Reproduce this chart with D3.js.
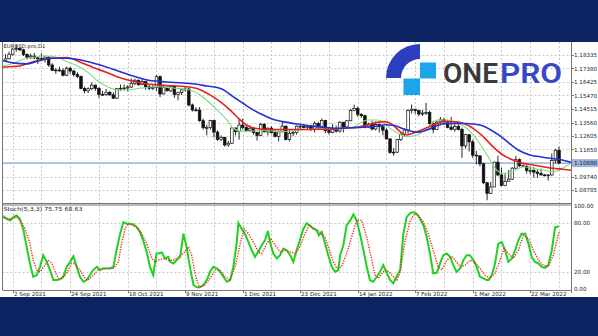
<!DOCTYPE html>
<html>
<head>
<meta charset="utf-8">
<script src="https://cdn.jsdelivr.net/npm/d3@7"></script>
<style>
html, body { margin: 0; padding: 0; background: #fff; }
svg { display: block; }
</style>
</head>
<body>
<div id="chart"></div>
<script>
const W = 598, H = 336;

// daily EURUSD candles, 31 Aug 2021 .. 31 Mar 2022 (bar index 0..154)
const open = [
  1.1796, 1.1807, 1.1839, 1.1876, 1.1880, 1.1870, 1.1837, 1.1818, 1.1826, 1.1813,
  1.1808, 1.1805, 1.1818, 1.1763, 1.1725, 1.1727, 1.1723, 1.1690, 1.1740, 1.1720,
  1.1695, 1.1682, 1.1597, 1.1580, 1.1595, 1.1620, 1.1598, 1.1555, 1.1553, 1.1570,
  1.1552, 1.1528, 1.1595, 1.1598, 1.1600, 1.1607, 1.1633, 1.1655, 1.1623, 1.1645,
  1.1608, 1.1598, 1.1604, 1.1680, 1.1558, 1.1606, 1.1580, 1.1612, 1.1554, 1.1567,
  1.1588, 1.1593, 1.1480, 1.1445, 1.1444, 1.1369, 1.1319, 1.1320, 1.1370, 1.1288,
  1.1237, 1.1250, 1.1197, 1.1209, 1.1317, 1.1291, 1.1338, 1.1320, 1.1301, 1.1315,
  1.1285, 1.1265, 1.1343, 1.1290, 1.1316, 1.1284, 1.1258, 1.1290, 1.1330, 1.1236,
  1.1280, 1.1285, 1.1330, 1.1330, 1.1320, 1.1330, 1.1310, 1.1350, 1.1325, 1.1370,
  1.1298, 1.1286, 1.1312, 1.1295, 1.1358, 1.1325, 1.1368, 1.1440, 1.1455, 1.1414,
  1.1404, 1.1325, 1.1344, 1.1310, 1.1342, 1.1326, 1.1302, 1.1240, 1.1144, 1.1146,
  1.1235, 1.1272, 1.1303, 1.1440, 1.1450, 1.1440, 1.1416, 1.1423, 1.1426, 1.1348,
  1.1307, 1.1358, 1.1375, 1.1361, 1.1322, 1.1308, 1.1328, 1.1307, 1.1190, 1.1270,
  1.1219, 1.1125, 1.1120, 1.1064, 1.0930, 1.0855, 1.0900, 1.1075, 1.0985, 1.0910,
  1.0940, 1.0955, 1.1033, 1.1093, 1.1050, 1.1045, 1.1016, 1.1016, 1.1005, 1.0995,
  1.0985, 1.0980, 1.0985, 1.1087, 1.1160
];
const high = [
  1.1840, 1.1857, 1.1880, 1.1909, 1.1888, 1.1878, 1.1845, 1.1844, 1.1848, 1.1822,
  1.1845, 1.1830, 1.1825, 1.1775, 1.1740, 1.1750, 1.1740, 1.1752, 1.1750, 1.1730,
  1.1712, 1.1688, 1.1610, 1.1605, 1.1640, 1.1625, 1.1605, 1.1580, 1.1593, 1.1578,
  1.1570, 1.1600, 1.1625, 1.1625, 1.1620, 1.1668, 1.1665, 1.1660, 1.1665, 1.1650,
  1.1625, 1.1620, 1.1692, 1.1690, 1.1616, 1.1610, 1.1616, 1.1617, 1.1575, 1.1590,
  1.1609, 1.1600, 1.1490, 1.1465, 1.1465, 1.1384, 1.1340, 1.1375, 1.1375, 1.1300,
  1.1265, 1.1255, 1.1225, 1.1320, 1.1320, 1.1382, 1.1383, 1.1335, 1.1335, 1.1325,
  1.1290, 1.1355, 1.1352, 1.1320, 1.1330, 1.1310, 1.1300, 1.1360, 1.1335, 1.1305,
  1.1305, 1.1335, 1.1345, 1.1340, 1.1335, 1.1340, 1.1365, 1.1360, 1.1385, 1.1375,
  1.1320, 1.1345, 1.1335, 1.1365, 1.1360, 1.1375, 1.1450, 1.1482, 1.1468, 1.1422,
  1.1412, 1.1355, 1.1369, 1.1363, 1.1350, 1.1335, 1.1315, 1.1245, 1.1175, 1.1240,
  1.1283, 1.1315, 1.1450, 1.1483, 1.1452, 1.1445, 1.1445, 1.1495, 1.1440, 1.1365,
  1.1368, 1.1395, 1.1390, 1.1375, 1.1395, 1.1360, 1.1345, 1.1320, 1.1275, 1.1275,
  1.1235, 1.1155, 1.1125, 1.1070, 1.0935, 1.0935, 1.1080, 1.1120, 1.1035, 1.0995,
  1.1020, 1.1040, 1.1120, 1.1102, 1.1058, 1.1055, 1.1045, 1.1040, 1.1025, 1.1030,
  1.0992, 1.0990, 1.1137, 1.1170, 1.1185
];
const low = [
  1.1794, 1.1802, 1.1830, 1.1857, 1.1860, 1.1826, 1.1802, 1.1804, 1.1804, 1.1770,
  1.1794, 1.1780, 1.1750, 1.1720, 1.1700, 1.1715, 1.1683, 1.1685, 1.1701, 1.1680,
  1.1670, 1.1590, 1.1562, 1.1565, 1.1585, 1.1580, 1.1530, 1.1545, 1.1545, 1.1545,
  1.1524, 1.1525, 1.1580, 1.1585, 1.1575, 1.1600, 1.1620, 1.1617, 1.1620, 1.1588,
  1.1586, 1.1585, 1.1580, 1.1535, 1.1555, 1.1577, 1.1570, 1.1530, 1.1513, 1.1550,
  1.1575, 1.1470, 1.1433, 1.1433, 1.1360, 1.1305, 1.1265, 1.1305, 1.1250, 1.1226,
  1.1225, 1.1186, 1.1185, 1.1205, 1.1265, 1.1235, 1.1305, 1.1295, 1.1288, 1.1270,
  1.1228, 1.1260, 1.1285, 1.1265, 1.1277, 1.1250, 1.1222, 1.1285, 1.1230, 1.1222,
  1.1260, 1.1270, 1.1310, 1.1315, 1.1305, 1.1295, 1.1285, 1.1310, 1.1315, 1.1280,
  1.1272, 1.1280, 1.1285, 1.1285, 1.1285, 1.1315, 1.1365, 1.1435, 1.1395, 1.1390,
  1.1315, 1.1320, 1.1300, 1.1300, 1.1285, 1.1265, 1.1235, 1.1135, 1.1121, 1.1140,
  1.1225, 1.1260, 1.1275, 1.1420, 1.1417, 1.1400, 1.1402, 1.1410, 1.1340, 1.1280,
  1.1305, 1.1340, 1.1340, 1.1315, 1.1300, 1.1290, 1.1300, 1.1106, 1.1170, 1.1150,
  1.1105, 1.1060, 1.1045, 1.0920, 1.0806, 1.0850, 1.0900, 1.0975, 1.0905, 1.0905,
  1.0940, 1.0950, 1.1025, 1.1040, 1.1040, 1.0995, 1.0990, 1.0965, 1.0965, 1.0980,
  1.0975, 1.0945, 1.0980, 1.1065, 1.1060
];
const close = [
  1.1807, 1.1839, 1.1876, 1.1880, 1.1870, 1.1837, 1.1818, 1.1826, 1.1813, 1.1808,
  1.1805, 1.1818, 1.1763, 1.1725, 1.1727, 1.1723, 1.1690, 1.1740, 1.1720, 1.1695,
  1.1682, 1.1597, 1.1580, 1.1595, 1.1620, 1.1598, 1.1555, 1.1553, 1.1570, 1.1552,
  1.1528, 1.1595, 1.1598, 1.1600, 1.1607, 1.1633, 1.1655, 1.1623, 1.1645, 1.1608,
  1.1598, 1.1604, 1.1680, 1.1558, 1.1606, 1.1580, 1.1612, 1.1554, 1.1567, 1.1588,
  1.1593, 1.1480, 1.1445, 1.1444, 1.1369, 1.1319, 1.1320, 1.1370, 1.1288, 1.1237,
  1.1250, 1.1197, 1.1209, 1.1317, 1.1291, 1.1338, 1.1320, 1.1301, 1.1315, 1.1285,
  1.1265, 1.1343, 1.1290, 1.1316, 1.1284, 1.1258, 1.1290, 1.1330, 1.1236, 1.1280,
  1.1285, 1.1330, 1.1330, 1.1320, 1.1330, 1.1310, 1.1350, 1.1325, 1.1370, 1.1298,
  1.1286, 1.1312, 1.1295, 1.1358, 1.1325, 1.1368, 1.1440, 1.1455, 1.1414, 1.1404,
  1.1325, 1.1344, 1.1310, 1.1342, 1.1326, 1.1302, 1.1240, 1.1144, 1.1146, 1.1235,
  1.1272, 1.1303, 1.1440, 1.1450, 1.1440, 1.1416, 1.1423, 1.1426, 1.1348, 1.1307,
  1.1358, 1.1375, 1.1361, 1.1322, 1.1308, 1.1328, 1.1307, 1.1190, 1.1270, 1.1219,
  1.1125, 1.1120, 1.1064, 1.0930, 1.0855, 1.0900, 1.1075, 1.0985, 1.0910, 1.0940,
  1.0955, 1.1033, 1.1093, 1.1050, 1.1045, 1.1016, 1.1016, 1.1005, 1.0995, 1.0985,
  1.0980, 1.0985, 1.1087, 1.1160, 1.10688
];

// alligator lines: [bar index, price]
const jaw = [[-1,1.1795],[2.1,1.1778],[6,1.1771],[9.6,1.1795],[13.2,1.1810],[17.1,1.1810],[21.6,1.1795],[26.3,1.1763],[31,1.1724],[35.5,1.1685],[40.2,1.1653],[44.9,1.1643],[49.4,1.1635],[53.3,1.1626],[56.1,1.1614],[58.9,1.1603],[60.5,1.1589],[63.3,1.1539],[66.1,1.1492],[68.9,1.1445],[71.7,1.1409],[74.4,1.1379],[77.2,1.1362],[81.1,1.1345],[84.7,1.1333],[88.3,1.1322],[92.2,1.1315],[95.9,1.1319],[99.5,1.1322],[103.4,1.1331],[105.6,1.1340],[107.8,1.1336],[111.7,1.1303],[114.5,1.1287],[117.3,1.1303],[120.1,1.1335],[122.8,1.1349],[128.4,1.1349],[132,1.1338],[134.8,1.1307],[137.6,1.1261],[140.4,1.1204],[143.2,1.1154],[145.9,1.1126],[148.7,1.1114],[151.5,1.1103],[154.3,1.1094],[157.6,1.1072],[160,1.1058]];
const teeth = [[-1,1.1747],[2.1,1.1752],[4,1.1756],[7.7,1.1786],[12.4,1.1810],[17.1,1.1816],[20.7,1.1784],[24.4,1.1745],[28.2,1.1710],[31,1.1680],[34.6,1.1653],[39.4,1.1628],[44.9,1.1618],[50.5,1.1609],[53.3,1.1597],[56.9,1.1551],[59.7,1.1503],[62.5,1.1444],[65.3,1.1374],[68,1.1326],[71.7,1.1308],[75.5,1.1306],[79.2,1.1306],[82.8,1.1306],[86.7,1.1308],[90.3,1.1308],[93.9,1.1315],[97.8,1.1322],[100.6,1.1338],[103.4,1.1357],[105.6,1.1362],[107.8,1.1338],[109.8,1.1291],[111.7,1.1268],[113.4,1.1280],[116.2,1.1308],[119,1.1338],[121.7,1.1362],[124.5,1.1362],[127.3,1.1350],[130.1,1.1315],[132.9,1.1256],[135.6,1.1185],[138.4,1.1126],[141.2,1.1091],[144,1.1067],[146.8,1.1055],[149.6,1.1043],[152.3,1.1032],[155.1,1.1025],[159,1.1012]];
const lips = [[-1,1.1756],[2.1,1.1773],[4.9,1.1803],[7.7,1.1817],[11,1.1826],[14.3,1.1817],[17.1,1.1786],[19.9,1.1759],[22.7,1.1715],[25.5,1.1653],[28.2,1.1611],[31,1.1586],[33.8,1.1586],[37.4,1.1598],[42.2,1.1609],[46.6,1.1600],[51.3,1.1586],[54.1,1.1551],[56.9,1.1492],[58.9,1.1444],[61.6,1.1374],[63.3,1.1317],[66.1,1.1291],[70,1.1298],[73.6,1.1298],[77.2,1.1291],[81.1,1.1303],[84.7,1.1308],[88.3,1.1315],[92.2,1.1308],[95.9,1.1315],[98.6,1.1350],[100.6,1.1374],[103.4,1.1374],[105.6,1.1352],[107,1.1315],[109.2,1.1280],[111.7,1.1256],[114.5,1.1268],[117.3,1.1315],[120.1,1.1374],[122.8,1.1374],[125.6,1.1350],[128.4,1.1315],[131.2,1.1232],[134,1.1126],[136.2,1.1032],[138.4,1.0997],[141.2,1.1008],[144,1.1043],[146.8,1.1032],[149.6,1.1020],[152.3,1.1008],[154.9,1.1032],[157,1.1062]];

// stochastic (5,3,3): [bar index, value]
const stochK = [[-1.1,88.6],[0.3,84.7],[1.3,82.6],[2.2,86.6],[3.1,88.6],[4,84.7],[5,70.7],[5.9,50.7],[6.8,30.8],[7.7,14.7],[8.7,16.8],[9.6,26.7],[10.5,40.7],[11.5,32.7],[12.4,22.8],[13.3,10.8],[14.3,10.8],[15.2,11.6],[16.1,14.7],[17,26.7],[18,32.7],[18.9,39.5],[19.8,26.7],[20.7,14.7],[21.7,8.7],[22.6,10.8],[23.5,16.8],[24.4,22.8],[25.4,26.7],[26.3,22.8],[27.2,24.8],[28.2,24.8],[29.1,24.8],[30,26.7],[30.9,46.7],[31.9,66.7],[32.8,80.6],[33.7,78.7],[34.6,78.7],[35.6,77.8],[36.5,74.6],[37.4,68.6],[38.3,58.7],[39.3,44.7],[40.2,26.7],[41.1,16.8],[42,42.8],[42.5,42.8],[43.5,44],[44.4,36.8],[45.3,38.7],[45.8,32.7],[46.7,30.8],[47.6,34.7],[48.6,38.7],[49.5,66.7],[50.4,50.7],[51.3,26.7],[52.3,4.8],[53.2,2],[54.1,2],[55,4.8],[56,10.8],[56.9,20.7],[57.8,26.7],[58.8,24.8],[59.7,20.7],[60.6,14.7],[61.6,8.7],[62.5,10.8],[63.4,26.7],[64.3,54.7],[64.8,79.4],[65.7,72.7],[66.6,66.7],[67.6,56.6],[68.5,46.7],[69.4,38.7],[70.3,44.7],[71.3,52.7],[72.2,58.7],[73,69.8],[73.6,56.6],[74.5,42.8],[75.5,36.8],[76.4,40.7],[77.3,48.7],[78.2,46.7],[79.2,40.7],[80.1,32.7],[81,46.7],[81.9,58.7],[82.9,72.7],[83.8,79.4],[84.7,76.6],[85.6,72.7],[86.6,70.7],[87.2,64.7],[88,68.6],[88.9,54.7],[89.8,40.7],[90.8,26.7],[91.7,20.7],[92.6,22.8],[93.1,40.7],[94,52.7],[94.9,76.6],[95.9,82.6],[96.8,89.8],[97.7,82.6],[98.6,66.7],[99.6,46.7],[100.5,26.7],[101.4,10.8],[102.3,8.7],[103.3,14.7],[104.2,20.7],[105.1,28.7],[106.1,18.8],[107,10.8],[107.9,6.8],[108.8,14.7],[109.8,22.8],[110.7,66.7],[111.6,86.6],[112.6,91.4],[113.5,92.6],[114.4,90.7],[115.3,84.7],[116.3,76.6],[117.2,62.6],[118.1,42.8],[119,18.8],[120,19.5],[120.9,30.8],[121.8,40.7],[122.8,42.8],[123.7,38.7],[124.6,28.7],[125.5,20.7],[126.5,24.8],[127.4,34.7],[128.3,40.7],[129.2,40.7],[130.2,34.7],[131.1,26.7],[132,14.7],[133,12.8],[133.9,10.8],[134.4,10.8],[135.3,16.8],[136.2,30.8],[137.1,54.7],[138.1,56.6],[139,46.7],[139.9,32.7],[140.9,36.8],[141.8,46.7],[142.7,58.7],[143.6,66.7],[144.6,66.7],[145.5,54.7],[146.4,38.7],[147.3,32.7],[148.3,30.8],[149.2,26.7],[150.1,25.5],[151,28.7],[152,46.7],[152.9,74],[154,75.75]];
const stochD = [[-1.1,86.6],[0.3,84.7],[1.7,84.7],[3.1,86.6],[4,82.6],[5.4,72.7],[6.8,54.7],[7.7,34.7],[8.7,22.8],[9.6,20.7],[11,28.7],[11.9,34.7],[12.9,30.8],[13.8,20.7],[14.7,12.8],[15.6,12.8],[17,18.8],[18.4,30.8],[19.3,30.8],[20.7,22.8],[22.1,12.8],[23,10.8],[24.4,16.8],[25.8,22.8],[27.2,24.8],[28.6,24.8],[30,24.8],[31.4,32.7],[32.3,54.7],[33.3,72.7],[34.2,78.7],[35.6,76.6],[37,72.7],[37.9,66.7],[39.3,54.7],[40.7,36.8],[41.6,32.7],[42.5,34.7],[43.9,36.8],[45.3,34.7],[46.7,34.7],[48.1,38.7],[49.5,42.8],[50.9,50.7],[51.8,40.7],[52.7,18.8],[53.7,4.8],[54.1,2],[55.5,4.8],[56.9,12.8],[58.3,22.8],[59.7,22.8],[61.1,14.7],[62.5,10.8],[63.9,26.7],[65.3,54.7],[66.4,72.7],[67.6,66.7],[69,56.6],[70.3,44.7],[71.3,42.8],[72.7,54.7],[73.8,60.7],[75,52.7],[76.4,44.7],[77.8,46.7],[79.2,44.7],[80.6,42.8],[81.9,50.7],[83.3,66.7],[84.5,76.6],[86.1,72.7],[87.5,68.6],[88.9,62.6],[89.8,50.7],[91.2,32.7],[92.2,24.8],[93.5,26.7],[94.9,42.8],[96.3,62.6],[97.7,82.6],[99.1,82.6],[100.5,62.6],[101.9,34.7],[102.8,16.8],[103.7,12.8],[105.1,20.7],[106.1,22.8],[107.5,16.8],[108.9,10.8],[109.8,20.7],[111.2,58.7],[112.6,82.6],[113.9,90.7],[114.9,88.6],[116.3,80.6],[117.6,66.7],[119,46.7],[120.4,26.7],[121.4,22.8],[122.8,34.7],[124.2,38.7],[125.1,34.7],[126.5,26.7],[127.9,28.7],[129.2,34.7],[130.6,32.7],[132,24.8],[133.4,16.8],[134.8,12.8],[136.2,18.8],[137.6,34.7],[138.7,48.7],[139.9,42.8],[141.3,36.8],[142.7,46.7],[144.1,64.7],[145.5,60.7],[146.9,46.7],[148.3,34.7],[149.6,28.7],[151,26.7],[152.4,40.7],[154,68.63]];

const priceTicks = [1.18335, 1.17380, 1.16425, 1.15470, 1.14515, 1.13560, 1.12605, 1.11650, 1.10695, 1.09740, 1.08785];
const stochTicks = [100, 80, 20, 0];
const dateTicks = [2, 18, 34, 50, 66, 82, 98, 114, 130, 146];
const dateLabels = ["2 Sep 2021", "24 Sep 2021", "18 Oct 2021", "9 Nov 2021", "1 Dec 2021", "23 Dec 2021", "14 Jan 2022", "7 Feb 2022", "1 Mar 2022", "22 Mar 2022"];
const lastPrice = 1.10688;
const stochLast = [75.75, 68.63];

// layout
const navy = "#0b2461";
const frameL = 2.5, frameR = 571;
const mainT = 42, mainB = 203.5, subT = 205.5, subB = 290;
const font = "DejaVu Sans";

const svg = d3.select("#chart").append("svg")
  .attr("width", W).attr("height", H);

svg.append("rect").attr("width", W).attr("height", H).attr("fill", "#fff");

const x = d3.scaleLinear().domain([0, 154]).range([5.5, 559]);
const y = d3.scaleLinear().domain([1.08785, 1.18335]).range([190, 55]);
const ys = d3.scaleLinear().domain([0, 100]).range([289, 206]);

const defs = svg.append("defs");
defs.append("clipPath").attr("id", "clipMain").append("rect")
  .attr("x", frameL).attr("y", mainT).attr("width", frameR - frameL).attr("height", mainB - mainT);
defs.append("clipPath").attr("id", "clipSub").append("rect")
  .attr("x", frameL).attr("y", subT).attr("width", frameR - frameL).attr("height", subB - subT);

// grid
const grid = svg.append("g").attr("stroke", "#c8c8c8").attr("stroke-dasharray", "2,2").attr("stroke-width", 1);
const gridX = d3.range(2, 155, 8);
grid.selectAll(".gv").data(gridX).join("line")
  .attr("x1", d => Math.round(x(d)) + 0.5).attr("x2", d => Math.round(x(d)) + 0.5)
  .attr("y1", mainT).attr("y2", mainB);
grid.selectAll(".gv2").data(gridX).join("line")
  .attr("x1", d => Math.round(x(d)) + 0.5).attr("x2", d => Math.round(x(d)) + 0.5)
  .attr("y1", subT).attr("y2", subB);
grid.selectAll(".gh").data(priceTicks).join("line")
  .attr("x1", frameL).attr("x2", frameR)
  .attr("y1", d => Math.round(y(d)) + 0.5).attr("y2", d => Math.round(y(d)) + 0.5);
grid.selectAll(".gs").data([80, 20]).join("line")
  .attr("x1", frameL).attr("x2", frameR)
  .attr("y1", d => Math.round(ys(d)) + 0.5).attr("y2", d => Math.round(ys(d)) + 0.5);

// bid line
svg.append("line")
  .attr("x1", frameL).attr("x2", frameR)
  .attr("y1", y(lastPrice)).attr("y2", y(lastPrice))
  .attr("stroke", "#a9bdd8").attr("stroke-width", 1.6);

// logo
const logo = svg.append("g");
logo.append("path")
  .attr("d", "M386,78 A34,34 0 0 1 420,44 L420,59 A19,19 0 0 0 401,78 Z")
  .attr("fill", "#2c3dbf");
logo.append("rect").attr("x", 420).attr("y", 62.5).attr("width", 16).attr("height", 16).attr("fill", "#1ba6ec");
logo.append("rect").attr("x", 403.5).attr("y", 78.5).attr("width", 16.5).attr("height", 16.5).attr("fill", "#1ba6ec");
logo.append("text").attr("x", 443).attr("y", 83)
  .attr("font-family", "Roboto").attr("font-weight", 600).attr("font-size", 27)
  .attr("textLength", 55).attr("lengthAdjust", "spacingAndGlyphs")
  .attr("fill", "#3a3a3a").text("ONE");
logo.append("text").attr("x", 500).attr("y", 83)
  .attr("font-family", "Roboto").attr("font-weight", 600).attr("font-size", 27)
  .attr("textLength", 62).attr("lengthAdjust", "spacingAndGlyphs")
  .attr("fill", "#3649c2").text("PRO");

// candles
const bars = close.map((c, i) => ({ i, o: open[i], h: high[i], l: low[i], c }));
const gc = svg.append("g").attr("clip-path", "url(#clipMain)");
gc.selectAll(".wick").data(bars).join("line")
  .attr("x1", d => x(d.i)).attr("x2", d => x(d.i))
  .attr("y1", d => y(d.h)).attr("y2", d => y(d.l))
  .attr("stroke", "#111").attr("stroke-width", 0.9);
gc.selectAll(".body").data(bars).join("rect")
  .attr("x", d => x(d.i) - 1.3)
  .attr("width", 2.6)
  .attr("y", d => y(Math.max(d.o, d.c)))
  .attr("height", d => Math.max(0.8, Math.abs(y(d.o) - y(d.c))))
  .attr("fill", d => d.c >= d.o ? "#fff" : "#111")
  .attr("stroke", "#111").attr("stroke-width", 0.7);

// alligator
const maLine = d3.line().x(d => x(d[0])).y(d => y(d[1])).curve(d3.curveMonotoneX);
const gm = svg.append("g").attr("clip-path", "url(#clipMain)").attr("fill", "none");
gm.append("path").attr("d", maLine(lips)).attr("stroke", "#7fdc7f").attr("stroke-width", 1.1);
gm.append("path").attr("d", maLine(teeth)).attr("stroke", "#e4231f").attr("stroke-width", 1.6);
gm.append("path").attr("d", maLine(jaw)).attr("stroke", "#2430d8").attr("stroke-width", 1.6);

// stochastic
const stLine = d3.line().x(d => x(d[0])).y(d => ys(d[1]));
const gs = svg.append("g").attr("clip-path", "url(#clipSub)").attr("fill", "none");
gs.append("path").attr("d", stLine(stochK)).attr("stroke", "#1ed21e").attr("stroke-width", 2);
gs.append("path").attr("d", stLine(stochD)).attr("stroke", "#ee2a2a").attr("stroke-width", 1.4)
  .attr("stroke-dasharray", "1.3,1.3");

// frame
const frame = svg.append("g").attr("stroke", "#777").attr("stroke-width", 1).attr("fill", "none");
frame.append("line").attr("x1", frameL).attr("x2", frameL).attr("y1", mainT).attr("y2", subB);
frame.append("line").attr("x1", frameR + 0.5).attr("x2", frameR + 0.5).attr("y1", mainT).attr("y2", subB + 3);
frame.append("line").attr("x1", frameL).attr("x2", frameR).attr("y1", mainB).attr("y2", mainB);
frame.append("line").attr("x1", frameL).attr("x2", frameR).attr("y1", subT - 0.5).attr("y2", subT - 0.5);
frame.append("line").attr("x1", frameL).attr("x2", frameR + 0.5).attr("y1", subB + 0.5).attr("y2", subB + 0.5);

// right axis
const axis = svg.append("g").attr("font-family", font).attr("font-size", 5.6).attr("fill", "#222");
axis.selectAll(".pt").data(priceTicks).join("line")
  .attr("x1", frameR + 0.5).attr("x2", frameR + 3)
  .attr("y1", d => Math.round(y(d)) + 0.5).attr("y2", d => Math.round(y(d)) + 0.5)
  .attr("stroke", "#777");
axis.selectAll(".pl").data(priceTicks).join("text")
  .attr("x", frameR + 3).attr("y", d => y(d) + 2)
  .text(d => d.toFixed(5));
axis.selectAll(".sl").data(stochTicks).join("text")
  .attr("x", frameR + 3).attr("y", d => ys(d) + 2)
  .text(d => d.toFixed(2));

// current price tag
const yl = y(lastPrice);
svg.append("rect").attr("x", frameR + 1).attr("y", yl - 4).attr("width", W - frameR - 1).attr("height", 8)
  .attr("fill", "#9fb4d4");
svg.append("text").attr("x", frameR + 3).attr("y", yl + 2)
  .attr("font-family", font).attr("font-size", 5.6).attr("fill", "#0a1f4e")
  .text(lastPrice.toFixed(5));

// time axis
axis.selectAll(".dt").data(dateTicks).join("line")
  .attr("x1", d => Math.round(x(d)) + 0.5).attr("x2", d => Math.round(x(d)) + 0.5)
  .attr("y1", subB + 0.5).attr("y2", subB + 3)
  .attr("stroke", "#777");
axis.selectAll(".dl").data(dateTicks).join("text")
  .attr("x", d => Math.round(x(d)) + 1).attr("y", 296.3)
  .text((d, i) => dateLabels[i]);

// panel captions
svg.append("text").attr("x", 3.5).attr("y", 47.5)
  .attr("font-family", font).attr("font-size", 5.2).attr("fill", "#222")
  .attr("textLength", 42).attr("lengthAdjust", "spacingAndGlyphs")
  .text("EURUSD.pro,D1");
svg.append("text").attr("x", 3.5).attr("y", 210.5)
  .attr("font-family", font).attr("font-size", 5.6).attr("fill", "#222")
  .attr("textLength", 79).attr("lengthAdjust", "spacingAndGlyphs")
  .text(`Stoch(5,3,3) ${stochLast[0].toFixed(2)} ${stochLast[1].toFixed(2)}`);

// navy bands
svg.append("rect").attr("x", 0).attr("y", 0).attr("width", W).attr("height", mainT).attr("fill", navy);
svg.append("rect").attr("x", 0).attr("y", 297).attr("width", W).attr("height", H - 297).attr("fill", navy);
</script>
</body>
</html>
